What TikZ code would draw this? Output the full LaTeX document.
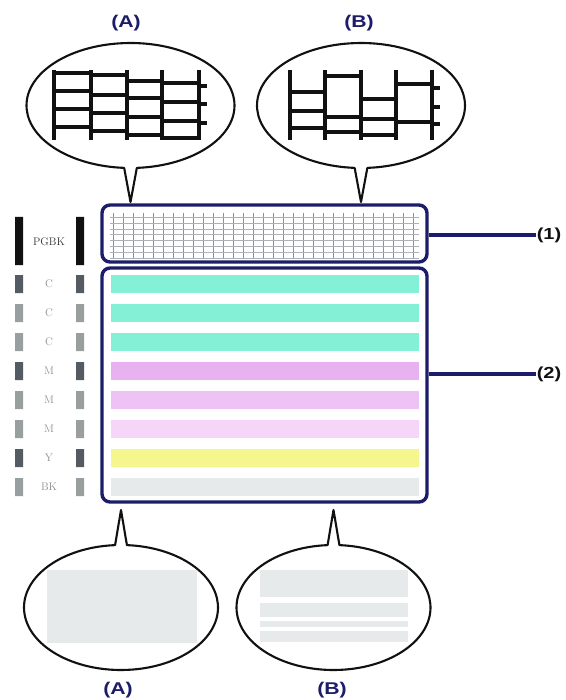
\documentclass[tikz,border=0pt]{standalone}
\usepackage{fontspec}
\usetikzlibrary{positioning}
\newfontfamily\tagfont[FakeStretch=1.25]{Liberation Sans}
\definecolor{ntNavy}{HTML}{1C1C6A}
\definecolor{ntInk}{HTML}{111111}
\definecolor{ntCyan}{HTML}{84F0D6}
\definecolor{ntMagA}{HTML}{E8B2F0}
\definecolor{ntMagB}{HTML}{EEC2F4}
\definecolor{ntMagC}{HTML}{F5D6F9}
\definecolor{ntYellow}{HTML}{F6F68E}
\definecolor{ntPaper}{HTML}{E6EAEA}
\definecolor{ntDark}{HTML}{555B63}
\definecolor{ntMid}{HTML}{999E9F}
\definecolor{ntGrid}{HTML}{8A9098}
\definecolor{ntLetter}{HTML}{8E8E8E}
\tikzset{
 nozzle/.style={line join=miter},
 band/.style={draw=ntNavy,line width=3.4pt,rounded corners=8pt,fill=white,inner sep=0pt},
 balloon/.style={draw=ntInk,line width=2.1pt,fill=white,line join=round},
 gridline/.style={draw=ntGrid,line width=.45pt},
 zoomline/.style={draw=ntInk,line width=3.1pt},
 leader/.style={draw=ntNavy,line width=3.1pt},
 tagA/.style={font=\tagfont\bfseries\fontsize{17}{17}\selectfont,text=ntNavy,inner sep=1pt},
 tagN/.style={font=\tagfont\bfseries\fontsize{16}{16}\selectfont,text=ntInk,inner sep=1pt},
 letter/.style={font=\fontsize{11}{11}\selectfont,text=ntLetter,inner sep=0pt}
}
\newcommand{\zoomBubble}[6]{% centre x, centre y, x radius, y radius, tail angle, tail tip
 \begin{scope}[shift={(#1,#2)}]
 \draw[balloon] (0,#6) -- (#5-3.5:#3 and #4)
   arc[start angle=#5-3.5,delta angle=-353,x radius=#3,y radius=#4] -- cycle;
 \end{scope}}

\begin{document}
\begin{tikzpicture}[nozzle,x=1pt,y=-1pt]
 \useasboundingbox (0,0) rectangle (565,700);
 % top balloons
 \zoomBubble{130.5}{105.5}{104}{62.5}{90}{96.5}
 \zoomBubble{361}{105.5}{104}{62.5}{90}{96.5}
 \node[tagA] (topA) at (126,23) {(A)};
 \node[tagA] (topB) at (359,23) {(B)};
 \foreach \x in {54,91,127,162,199} \draw[zoomline] (\x,70)--(\x,140);
 \foreach \xa/\xb/\ya/\yb/\yc/\yd in {54/91/73/91/109/127,91/127/75/95/113/131,
   127/162/81/98/117/135,162/199/83/102/121/138}{
  \draw[zoomline] (\xa,\ya)--(\xb,\ya) (\xa,\yb)--(\xb,\yb) (\xa,\yc)--(\xb,\yc) (\xa,\yd)--(\xb,\yd);}
 \foreach \y in {86,104,123} \draw[zoomline] (199,\y)--(207,\y);
 \foreach \x in {290,325,361,396,432} \draw[zoomline] (\x,70)--(\x,140);
 \foreach \xa/\xb/\ya/\yb/\yc in {290/325/92/111/128,325/361/76/117/132,361/396/99/119/135}{
  \draw[zoomline] (\xa,\ya)--(\xb,\ya) (\xa,\yb)--(\xb,\yb) (\xa,\yc)--(\xb,\yc);}
 \draw[zoomline] (396,84)--(432,84) (396,122)--(432,122);
 \foreach \y in {88,107,124} \draw[zoomline] (432,\y)--(440,\y);
 % pattern print
 \node[band,minimum width=325pt,minimum height=57pt] (gridband) at (264.5,233.5) {};
 \foreach \i in {0,...,30} \draw[gridline] (113+10*\i,213)--(113+10*\i,259);
 \foreach \y in {217,223,229,234,240,246,252,258} \draw[gridline,draw=ntGrid!70] (110,\y)--(419,\y);
 \node[band,minimum width=325pt,minimum height=234pt] (colorband) at (264.5,385) {};
 \foreach \c [count=\i from 0] in {ntCyan,ntCyan,ntCyan,ntMagA,ntMagB,ntMagC,ntYellow,ntPaper}
  \fill[\c] (111,275+29*\i) rectangle (419,293+29*\i);
 % nozzle legend
 \fill[ntInk] (15,217) rectangle (23,265) (76,217) rectangle (84,265);
 \node[letter,text=ntInk!85] (pgbk) at (49,242) {PGBK};
 \foreach \s/\l [count=\i from 0] in {ntDark/C,ntMid/C,ntMid/C,ntDark/M,ntMid/M,ntMid/M,ntDark/Y,ntMid/BK}{
  \fill[\s] (15,275+29*\i) rectangle (23,293+29*\i) (76,275+29*\i) rectangle (84,293+29*\i);
  \node[letter] (ink\i) at (49,284+29*\i) {\l};}
 \node[tagN] (tagOne) at (549,235) {(1)};
 \node[tagN] (tagTwo) at (549,374) {(2)};
 \draw[leader] (gridband.east |- tagOne) -- (tagOne.west);
 \draw[leader] (colorband.east |- tagTwo) -- (tagTwo.west);
 % bottom balloons
 \zoomBubble{121}{607.5}{97}{62.5}{270}{-97.5}
 \zoomBubble{333.5}{607.5}{97}{62.5}{270}{-97.5}
 \fill[ntPaper] (47,570) rectangle (197,643);
 \foreach \ya/\yb in {570/597,603/617,621/627,631/642} \fill[ntPaper] (260,\ya) rectangle (408,\yb);
 \node[tagA] (lowA) at (118,690) {(A)};
 \node[tagA] (lowB) at (332,690) {(B)};
\end{tikzpicture}
\end{document}
